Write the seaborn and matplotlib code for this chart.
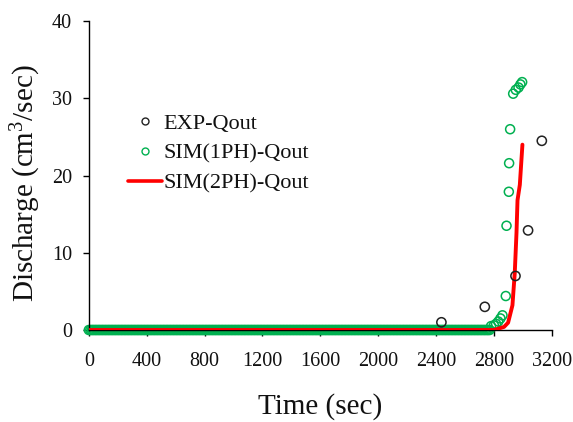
import numpy as np
import pandas as pd
import matplotlib
matplotlib.use("Agg")
import matplotlib.pyplot as plt
from matplotlib.lines import Line2D
import seaborn as sns

# Measured outflow discharge
exp_t = [2437, 2737, 2949, 3036, 3131]
exp_q = [1.0, 3.0, 7.0, 12.9, 24.5]

# Single-phase simulation: flat zero record, then the breakthrough points
sim1_base_t = np.arange(0, 2780, 10)
sim1_base_q = np.zeros(len(sim1_base_t))
sim1_rise_t = [2780, 2800, 2815, 2830, 2845, 2859, 2882, 2887, 2903, 2905, 2912,
               2933, 2951, 2970, 2983, 2995]
sim1_rise_q = [0.5, 0.6, 0.8, 1.1, 1.5, 1.9, 4.4, 13.5, 17.9, 21.6, 26.0,
               30.6, 31.1, 31.4, 31.8, 32.1]

# Two-phase simulation curve
sim2_t = [0, 2800, 2870, 2898, 2928, 2944, 2956, 2963, 2979, 2997]
sim2_q = [0.0, 0.0, 0.4, 0.95, 3.2, 7.4, 12.6, 16.8, 18.8, 24.0]

sim1_t = np.concatenate([sim1_base_t, sim1_rise_t])
sim1_q = np.concatenate([sim1_base_q, sim1_rise_q])

exp_df = pd.DataFrame({"t": exp_t, "q": exp_q})
sim1_df = pd.DataFrame({"t": sim1_t, "q": sim1_q})
sim2_df = pd.DataFrame({"t": sim2_t, "q": sim2_q})

sns.set_style("ticks")
plt.rcParams["font.family"] = ["Liberation Serif", "DejaVu Serif"]
plt.rcParams["mathtext.fontset"] = "custom"
plt.rcParams["mathtext.rm"] = "Liberation Serif"
plt.rcParams["mathtext.it"] = "Liberation Serif:italic"

GREEN = "#00B050"
RED = "#FF0000"
TEXT = "#111111"

fig = plt.figure(figsize=(5.73, 4.22), dpi=100)
ax = fig.add_axes([0.155, 0.218, 0.808, 0.732])

sns.scatterplot(data=sim1_df, x="t", y="q", ax=ax, marker="o", s=42,
                facecolors="none", edgecolor=GREEN, linewidth=1.1,
                clip_on=False, zorder=2)
sns.lineplot(data=sim2_df, x="t", y="q", ax=ax, color=RED, linewidth=2.8,
             estimator=None, sort=False, zorder=3)
sns.scatterplot(data=exp_df, x="t", y="q", ax=ax, marker="o", s=44,
                facecolors="none", edgecolor="#222222", linewidth=1.1,
                clip_on=False, zorder=4)

ax.set_xlim(0, 3200)
ax.set_ylim(0, 40)
ax.set_xticks(np.arange(0, 3201, 400))
ax.set_yticks([0, 10, 20, 30, 40])
ax.tick_params(axis="both", labelsize=14.5, colors="black", labelcolor=TEXT,
               length=4, width=1, direction="out")
ax.tick_params(axis="x", pad=12)
ax.tick_params(axis="y", pad=8)
for s in ["top", "right"]:
    ax.spines[s].set_visible(False)
for s in ["left", "bottom"]:
    ax.spines[s].set_color("black")
    ax.spines[s].set_linewidth(1)

ax.set_xlabel("Time (sec)", fontsize=21, labelpad=16, color=TEXT)
ax.set_ylabel("Discharge (cm$^3$/sec)", fontsize=21, color=TEXT)
ax.yaxis.set_label_coords(-0.098, 0.475)

handles = [
    Line2D([], [], linestyle="none", marker="o", markersize=5,
           markerfacecolor="none", markeredgecolor="#222222", markeredgewidth=1),
    Line2D([], [], linestyle="none", marker="o", markersize=5,
           markerfacecolor="none", markeredgecolor=GREEN, markeredgewidth=1),
    Line2D([], [], color=RED, linewidth=2.6),
]
labels = ["EXP-Qout", "SIM(1PH)-Qout", "SIM(2PH)-Qout"]
leg = ax.legend(handles, labels, loc="upper left", bbox_to_anchor=(0.06, 0.738),
                frameon=False, fontsize=16, handlelength=1.55, handletextpad=0.05,
                labelspacing=0.42, borderpad=0)
for t in leg.get_texts():
    t.set_color(TEXT)

fig.savefig("out.png", dpi=100)
